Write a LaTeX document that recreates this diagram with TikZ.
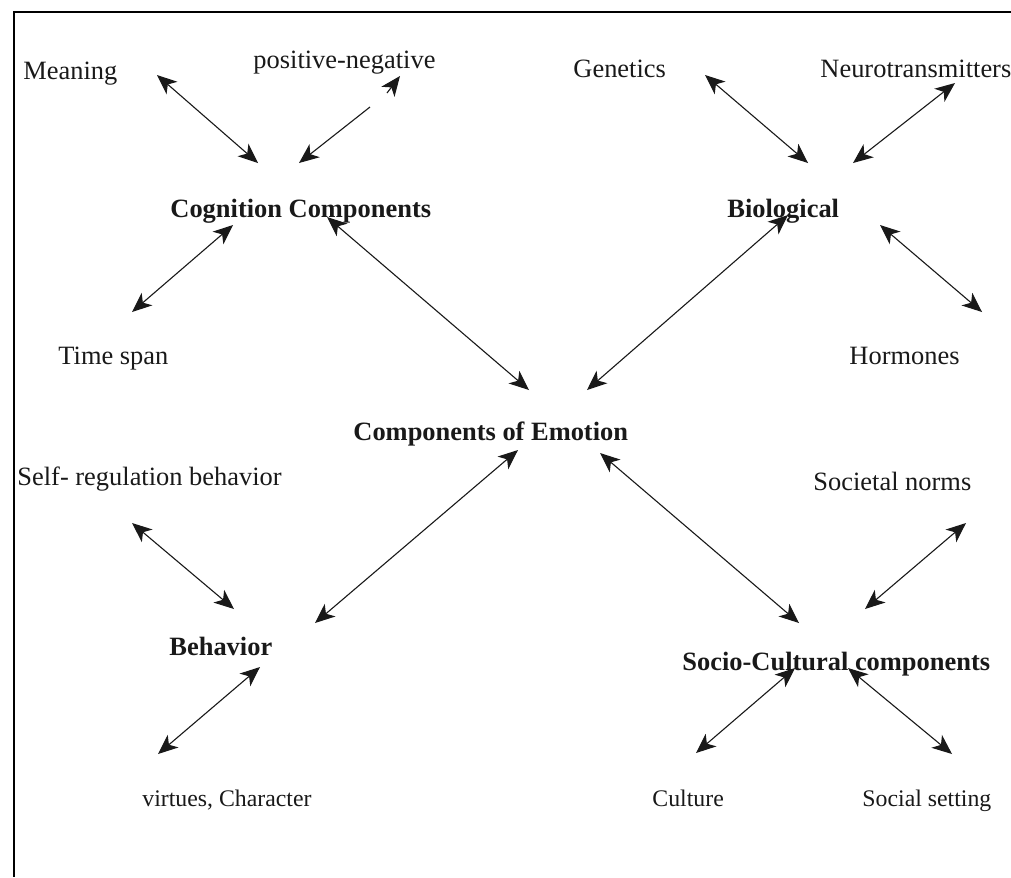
\documentclass[tikz,border=0pt]{standalone}
\usepackage{fontspec}
\setmainfont{Liberation Serif}
\usetikzlibrary{arrows.meta,positioning}

\tikzset{
  biarrow/.style={{Stealth[length=9pt,width=7.5pt,inset=2.5pt]}-{Stealth[length=9pt,width=7.5pt,inset=2.5pt]}, line width=0.5pt},
  onearrow/.style={-{Stealth[length=9pt,width=7.5pt,inset=2.5pt]}, line width=0.5pt},
  word/.style={anchor=base west, inner sep=0pt, font=\fontsize{12}{14}\selectfont},
  small/.style={anchor=base west, inner sep=0pt, font=\fontsize{10.8}{13}\selectfont},
  head/.style={anchor=base west, inner sep=0pt, font=\fontsize{12}{14}\selectfont\bfseries}
}

\begin{document}
\begin{tikzpicture}[x=0.454pt, y=-0.454pt, color=black!90]
  \useasboundingbox (0,0) rectangle (1011,877);
  \draw [line width=0.75pt, black] (1011,12) -- (14,12) -- (14,877);

  % main components
  \node [head] at (170,217) (cog) {Cognition Components};
  \node [head] at (727,217) (bio) {Biological};
  \node [head] at (353,440) (emo) {Components of Emotion};
  \node [head] at (169,655) (beh) {Behavior};
  \node [head] at (682,670) (soc) {Socio-Cultural components};

  % surrounding items
  \node [word] at (23,79) (meaning) {Meaning};
  \node [word] at (253,68) (posneg) {positive-negative};
  \node [word] at (573,77) (genetics) {Genetics};
  \node [word] at (820,77) (neuro) {Neurotransmitters};
  \node [word] at (58,364) (timespan) {Time span};
  \node [word] at (849,364) (hormones) {Hormones};
  \node [word] at (17,485) (selfreg) {Self- regulation behavior};
  \node [word] at (813,490) (norms) {Societal norms};
  \node [small] at (142,806) (virtues) {virtues, Character};
  \node [small] at (652,806) (culture) {Culture};
  \node [small] at (862,806) (social) {Social setting};

  % arrow ends
  \coordinate (meaningA) at (157,75);   \coordinate (meaningB) at (258,163);
  \coordinate (posnegA) at (370,107);   \coordinate (posnegB) at (299,163);
  \coordinate (posnegC) at (387,93);    \coordinate (posnegD) at (400,76);
  \coordinate (geneticsA) at (705,75);  \coordinate (geneticsB) at (808,163);
  \coordinate (neuroA) at (955,83);     \coordinate (neuroB) at (853,163);
  \coordinate (timespanA) at (233,225); \coordinate (timespanB) at (132,312);
  \coordinate (cogA) at (327,217);      \coordinate (cogB) at (529,390);
  \coordinate (bioA) at (788,215);      \coordinate (bioB) at (587,390);
  \coordinate (hormonesA) at (880,225); \coordinate (hormonesB) at (982,312);
  \coordinate (selfregA) at (132,523);  \coordinate (selfregB) at (234,609);
  \coordinate (behA) at (518,450);      \coordinate (behB) at (315,623);
  \coordinate (socA) at (600,453);      \coordinate (socB) at (799,623);
  \coordinate (normsA) at (966,523);    \coordinate (normsB) at (865,609);
  \coordinate (virtuesA) at (260,667);  \coordinate (virtuesB) at (158,754);
  \coordinate (cultureA) at (795,668);  \coordinate (cultureB) at (696,753);
  \coordinate (socialA) at (848,668);   \coordinate (socialB) at (952,754);

  \draw [biarrow] (meaningA) -- (meaningB);
  \draw [onearrow] (posnegA) -- (posnegB);
  \draw [onearrow] (posnegC) -- (posnegD);
  \draw [biarrow] (geneticsA) -- (geneticsB);
  \draw [biarrow] (neuroA) -- (neuroB);
  \draw [biarrow] (timespanA) -- (timespanB);
  \draw [biarrow] (cogA) -- (cogB);
  \draw [biarrow] (bioA) -- (bioB);
  \draw [biarrow] (hormonesA) -- (hormonesB);

  \draw [biarrow] (selfregA) -- (selfregB);
  \draw [biarrow] (behA) -- (behB);
  \draw [biarrow] (socA) -- (socB);
  \draw [biarrow] (normsA) -- (normsB);
  \draw [biarrow] (virtuesA) -- (virtuesB);
  \draw [biarrow] (cultureA) -- (cultureB);
  \draw [biarrow] (socialA) -- (socialB);

\end{tikzpicture}
\end{document}
